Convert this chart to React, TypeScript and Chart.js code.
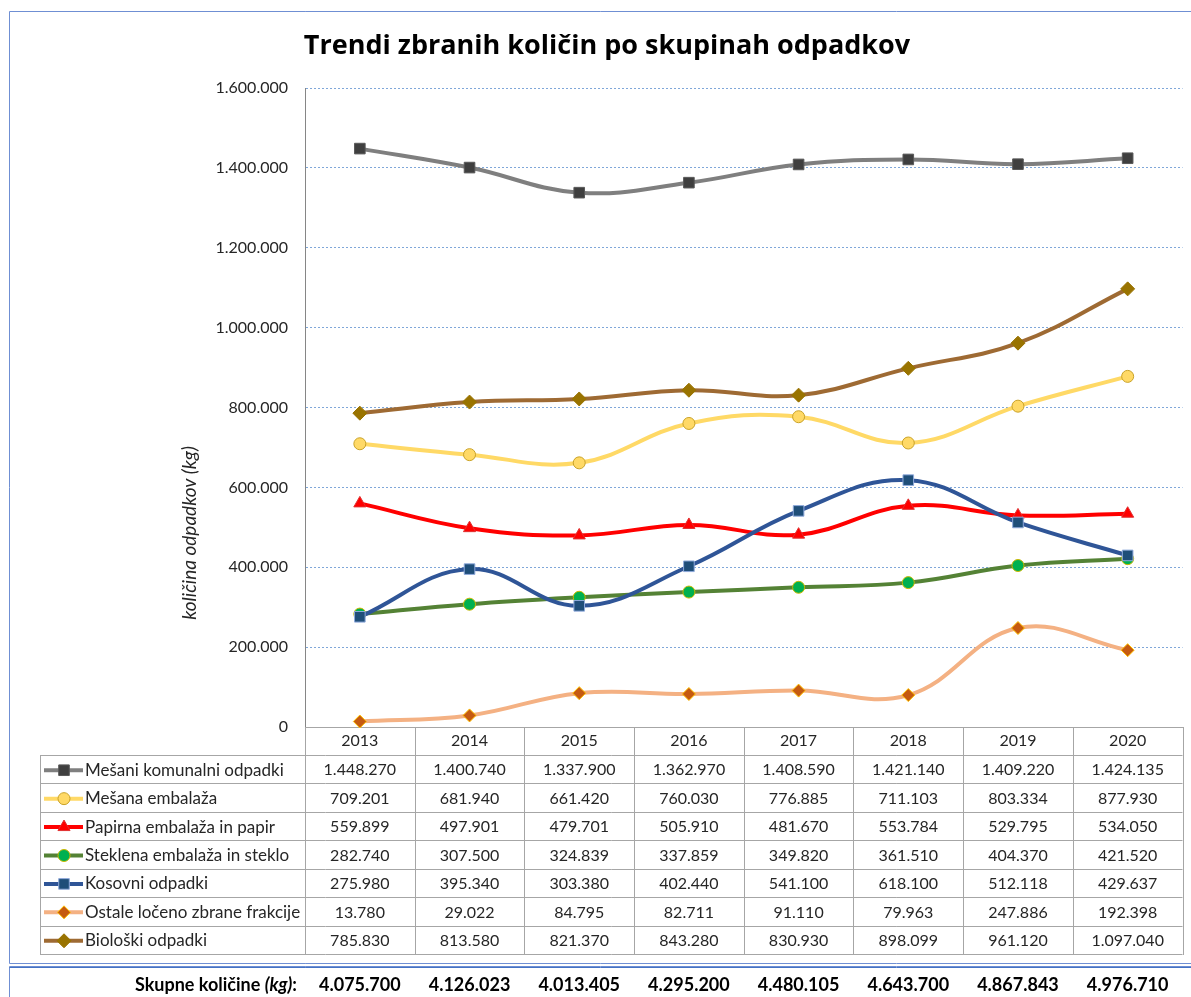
import React, { useEffect, useRef } from 'react';
import { Chart, registerables } from 'chart.js';
import { drawPoint } from 'chart.js/helpers';

Chart.register(...registerables);

const chartTitle = 'Trendi zbranih količin po skupinah odpadkov';
const yAxisTitle = 'količina odpadkov (kg)';
const totalsLabel = 'Skupne količine';
const years = ['2013', '2014', '2015', '2016', '2017', '2018', '2019', '2020'];

const seriesNames = [
  'Mešani komunalni odpadki',
  'Mešana embalaža',
  'Papirna embalaža in papir',
  'Steklena embalaža in steklo',
  'Kosovni odpadki',
  'Ostale ločeno zbrane frakcije',
  'Biološki odpadki',
];

const mesaniKomunalni = [1448270, 1400740, 1337900, 1362970, 1408590, 1421140, 1409220, 1424135];
const mesanaEmbalaza = [709201, 681940, 661420, 760030, 776885, 711103, 803334, 877930];
const papirnaEmbalaza = [559899, 497901, 479701, 505910, 481670, 553784, 529795, 534050];
const steklenaEmbalaza = [282740, 307500, 324839, 337859, 349820, 361510, 404370, 421520];
const kosovniOdpadki = [275980, 395340, 303380, 402440, 541100, 618100, 512118, 429637];
const ostaleFrakcije = [13780, 29022, 84795, 82711, 91110, 79963, 247886, 192398];
const bioloskiOdpadki = [785830, 813580, 821370, 843280, 830930, 898099, 961120, 1097040];
const skupneKolicine = [4075700, 4126023, 4013405, 4295200, 4480105, 4643700, 4867843, 4976710];

const yMin = 0;
const yMax = 1600000;
const yStep = 200000;

const seriesValues = [
  mesaniKomunalni,
  mesanaEmbalaza,
  papirnaEmbalaza,
  steklenaEmbalaza,
  kosovniOdpadki,
  ostaleFrakcije,
  bioloskiOdpadki,
];

const seriesStyles = [
  { line: '#7f7f7f', fill: '#3f3f3f', border: '#595959', shape: 'rect', r: 7.5 },
  { line: '#ffd966', fill: '#ffd966', border: '#c9a227', shape: 'circle', r: 6 },
  { line: '#ff0000', fill: '#ff0000', border: '#e03030', shape: 'triangle', r: 7 },
  { line: '#548235', fill: '#00b050', border: '#c9b800', shape: 'circle', r: 6 },
  { line: '#2f5597', fill: '#1f4e79', border: '#8faadc', shape: 'rect', r: 7.5 },
  { line: '#f4b183', fill: '#c55a11', border: '#ffc000', shape: 'rectRot', r: 6.5 },
  { line: '#9e6a33', fill: '#997300', border: '#997300', shape: 'rectRot', r: 7 },
];

const FONT = 'Lato, "Open Sans", sans-serif';
const TEXT = '#262626';
const GRID_GRAY = '#a6a6a6';
const FRAME_BLUE = '#6f8fd3';

const fmt = (v: number) => String(v).replace(/\B(?=(\d{3})+(?!\d))/g, '.');

const TABLE_LEFT = 40;
const HEADER_TOP = 727;
const ROWS_TOP = 755;
const ROWS_BOTTOM = 954;

const tablePlugin = {
  id: 'tablePlugin',
  afterDraw(chart: any) {
    const ctx = chart.ctx as CanvasRenderingContext2D;
    const x = chart.scales.x;
    const area = chart.chartArea;
    const n = years.length;
    const binW = (area.right - area.left) / n;
    const rowH = (ROWS_BOTTOM - ROWS_TOP) / seriesNames.length;
    ctx.save();

    // title
    ctx.fillStyle = '#000';
    ctx.font = 'bold 27px "Open Sans", Lato, sans-serif';
    ctx.textAlign = 'center';
    ctx.textBaseline = 'middle';
    ctx.fillText(chartTitle, 607, 46);

    // y axis title
    ctx.save();
    ctx.translate(190, 533);
    ctx.rotate(-Math.PI / 2);
    ctx.font = 'italic 19px ' + FONT;
    ctx.fillStyle = TEXT;
    ctx.textAlign = 'center';
    ctx.textBaseline = 'middle';
    ctx.fillText(yAxisTitle, 0, 0);
    ctx.restore();

    // table grid
    ctx.strokeStyle = GRID_GRAY;
    ctx.lineWidth = 1;
    ctx.beginPath();
    for (let k = 0; k <= seriesNames.length; k++) {
      const yy = Math.round(ROWS_TOP + k * rowH) + 0.5;
      ctx.moveTo(TABLE_LEFT, yy);
      ctx.lineTo(area.right, yy);
    }
    ctx.moveTo(TABLE_LEFT + 0.5, ROWS_TOP);
    ctx.lineTo(TABLE_LEFT + 0.5, ROWS_BOTTOM + 1);
    for (let j = 0; j <= n; j++) {
      const xx = Math.round(area.left + j * binW) + 0.5;
      ctx.moveTo(xx, HEADER_TOP);
      ctx.lineTo(xx, ROWS_BOTTOM + 1);
    }
    ctx.stroke();

    // rows
    ctx.textBaseline = 'middle';
    for (let s = 0; s < seriesNames.length; s++) {
      const cy = ROWS_TOP + (s + 0.5) * rowH + 1;
      const st = seriesStyles[s];
      // legend key
      ctx.strokeStyle = st.line;
      ctx.lineWidth = 4;
      ctx.beginPath();
      ctx.moveTo(44, cy);
      ctx.lineTo(83, cy);
      ctx.stroke();
      ctx.fillStyle = st.fill;
      ctx.strokeStyle = st.border;
      ctx.lineWidth = 1;
      drawPoint(ctx, { pointStyle: st.shape, radius: st.r, rotation: 0, borderWidth: 1 }, 64, cy);
      ctx.fillStyle = TEXT;
      ctx.textAlign = 'left';
      ctx.font = '17px ' + FONT;
      ctx.fillText(seriesNames[s], 85, cy);
      ctx.textAlign = 'center';
      ctx.font = '16px ' + FONT;
      const vals = seriesValues[s];
      for (let i = 0; i < n; i++) {
        ctx.fillText(fmt(vals[i]), x.getPixelForValue(i), cy);
      }
    }

    // frames
    ctx.strokeStyle = FRAME_BLUE;
    ctx.lineWidth = 1;
    ctx.beginPath();
    ctx.moveTo(1200, 11.5);
    ctx.lineTo(9.5, 11.5);
    ctx.lineTo(9.5, 963.5);
    ctx.lineTo(1200, 963.5);
    ctx.moveTo(1200, 966.5);
    ctx.lineTo(9.5, 966.5);
    ctx.lineTo(9.5, 1000);
    ctx.stroke();
    ctx.strokeStyle = '#4472c4';
    ctx.beginPath();
    ctx.moveTo(9.5, 967.5);
    ctx.lineTo(1200, 967.5);
    ctx.stroke();

    // totals
    const ty = 985;
    ctx.fillStyle = '#000';
    ctx.textBaseline = 'middle';
    const bold = 'bold 18px ' + FONT;
    const boldIt = 'italic bold 18px ' + FONT;
    ctx.font = bold;
    const wColon = ctx.measureText(':').width;
    ctx.font = boldIt;
    const wKg = ctx.measureText('(kg)').width;
    ctx.font = bold;
    const wLabel = ctx.measureText(totalsLabel + ' ').width;
    const end = 297;
    ctx.textAlign = 'left';
    ctx.fillText(totalsLabel + ' ', end - wColon - wKg - wLabel, ty);
    ctx.font = boldIt;
    ctx.fillText('(kg)', end - wColon - wKg, ty);
    ctx.font = bold;
    ctx.fillText(':', end - wColon, ty);
    ctx.textAlign = 'center';
    for (let i = 0; i < n; i++) {
      ctx.fillText(fmt(skupneKolicine[i]), x.getPixelForValue(i), ty);
    }
    ctx.restore();
  },
};

export default function App() {
  const ref = useRef<HTMLCanvasElement | null>(null);
  useEffect(() => {
    if (!ref.current) return;
    const datasets = seriesNames.map((name, s) => ({
      label: name,
      data: seriesValues[s],
      borderColor: seriesStyles[s].line,
      backgroundColor: seriesStyles[s].fill,
      borderWidth: 4,
      tension: 0.4,
      pointStyle: seriesStyles[s].shape,
      pointRadius: seriesStyles[s].r,
      pointBackgroundColor: seriesStyles[s].fill,
      pointBorderColor: seriesStyles[s].border,
      pointBorderWidth: 1,
      fill: false,
      order: seriesNames.length - s,
      clip: false as any,
    }));
    const chart = new Chart(ref.current, {
      type: 'line',
      data: { labels: years, datasets },
      options: {
        animation: false,
        responsive: false,
        devicePixelRatio: 1,
        layout: { padding: { top: 88, right: 6, bottom: 242, left: 0 } },
        plugins: { legend: { display: false }, tooltip: { enabled: false }, title: { display: false } },
        scales: {
          x: {
            type: 'category',
            offset: true,
            grid: { display: false, drawTicks: false },
            border: { display: true, color: GRID_GRAY },
            ticks: { font: { family: FONT, size: 16 }, color: TEXT, padding: 4, maxRotation: 0 },
            afterFit: (s: any) => { s.height = 28; },
          },
          y: {
            min: yMin,
            max: yMax,
            ticks: {
              stepSize: yStep,
              callback: (v: any) => fmt(Number(v)),
              font: { family: FONT, size: 16 },
              color: TEXT,
              padding: 17,
            },
            grid: {
              drawTicks: false,
              color: (c: any) => (c.tick && c.tick.value === 0 ? 'rgba(0,0,0,0)' : '#7fa7d9'),
              lineWidth: 1,
            },
            border: { display: true, color: '#868686', dash: [2, 2] },
            afterFit: (s: any) => { s.width = 305; },
          },
        },
      },
      plugins: [tablePlugin],
    });
    return () => chart.destroy();
  }, []);
  return (
    <div style={{ position: 'absolute', left: 0, top: 0, width: 1191, height: 997, background: '#fff' }}>
      <canvas ref={ref} width={1191} height={997} style={{ width: 1191, height: 997, display: 'block' }} />
    </div>
  );
}
